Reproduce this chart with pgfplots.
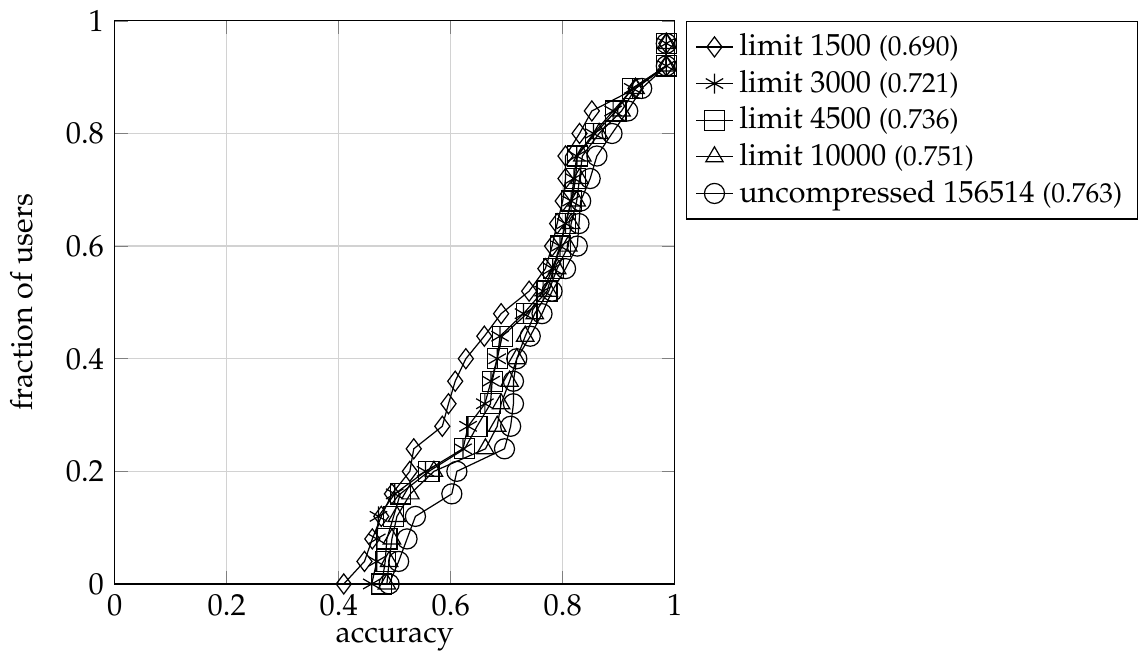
\documentclass[border=0pt]{standalone}
\usepackage[T1]{fontenc}
\usepackage{mathpazo}
\usepackage{pgfplots}
\pgfplotsset{compat=1.18}

\pgfplotstableread{
y     a1500  a3000  a4500  a10000 aunc
0.00  0.409  0.459  0.477  0.486  0.490
0.04  0.446  0.468  0.483  0.490  0.507
0.08  0.460  0.468  0.486  0.495  0.522
0.12  0.476  0.471  0.498  0.504  0.537
0.16  0.495  0.500  0.510  0.528  0.602
0.20  0.527  0.555  0.561  0.570  0.611
0.24  0.534  0.622  0.625  0.662  0.696
0.28  0.585  0.631  0.647  0.683  0.707
0.32  0.596  0.661  0.671  0.690  0.712
0.36  0.608  0.672  0.674  0.705  0.712
0.40  0.627  0.683  0.683  0.718  0.718
0.44  0.660  0.688  0.692  0.733  0.742
0.48  0.690  0.730  0.736  0.750  0.763
0.52  0.740  0.765  0.772  0.775  0.781
0.56  0.769  0.782  0.784  0.790  0.805
0.60  0.781  0.795  0.796  0.810  0.826
0.64  0.790  0.805  0.805  0.815  0.829
0.68  0.800  0.815  0.816  0.825  0.832
0.72  0.805  0.820  0.823  0.830  0.849
0.76  0.805  0.825  0.826  0.835  0.861
0.80  0.830  0.855  0.858  0.865  0.888
0.84  0.852  0.890  0.895  0.905  0.916
0.88  0.930  0.925  0.924  0.930  0.941
0.92  0.985  0.985  0.985  0.985  0.985
0.96  0.985  0.985  0.985  0.985  0.985
}\users

\begin{document}
\begin{tikzpicture}
\begin{axis}[
  scale only axis,
  width=184pt,
  height=185pt,
  xmin=0, xmax=1,
  ymin=0, ymax=1,
  xlabel={accuracy},
  ylabel={fraction of users},
  xlabel shift=-3pt,
  ylabel shift=4pt,
  grid=major,
  major grid style={draw=gray!35},
  mark size=3.3pt,
  every axis plot/.append style={black, line width=0.4pt},
  legend style={at={(1.02,1)}, anchor=north west, draw=black,
    cells={anchor=west}, font=\normalsize, row sep=-0.7pt},
  legend image code/.code={%
    \draw[mark repeat=2,mark phase=2]
      plot coordinates {(0cm,0cm) (0.21cm,0cm) (0.42cm,0cm)};},
]
\addplot[mark=diamond] table[x=a1500,y=y] {\users};
\addplot[mark=asterisk] table[x=a3000,y=y] {\users};
\addplot[mark=square] table[x=a4500,y=y] {\users};
\addplot[mark=triangle] table[x=a10000,y=y] {\users};
\addplot[mark=o] table[x=aunc,y=y] {\users};
\legend{limit 1500 {\small(0.690)},
        limit 3000 {\small(0.721)},
        limit 4500 {\small(0.736)},
        limit 10000 {\small(0.751)},
        uncompressed 156514 {\small(0.763)}}
\end{axis}
\end{tikzpicture}
\end{document}
